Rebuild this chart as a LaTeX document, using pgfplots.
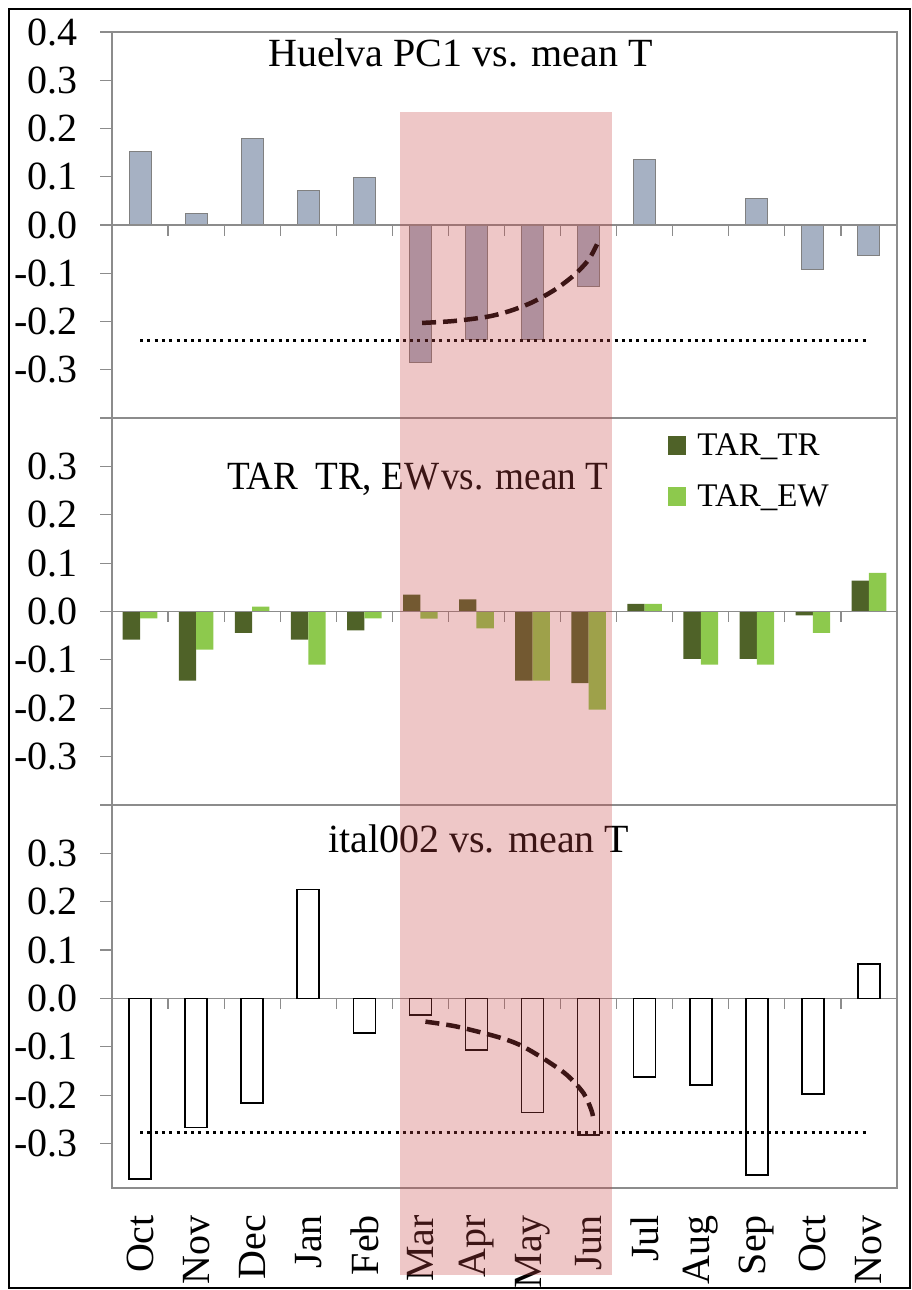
\documentclass[border=0pt]{standalone}
\usepackage{fontspec}
\setmainfont{Liberation Serif}
\usepackage{graphicx}
\usepackage{pgfplots}
\pgfplotsset{compat=1.18}

\definecolor{huelva}{RGB}{166,177,195}
\definecolor{barline}{RGB}{128,128,128}
\definecolor{axgray}{RGB}{140,140,140}
\definecolor{trgreen}{RGB}{79,98,40}
\definecolor{ewgreen}{RGB}{141,201,77}
\definecolor{hilite}{RGB}{200,70,70}

\newcommand\bigf{\fontsize{40}{44}\selectfont}
\newcommand\legf{\fontsize{33}{36}\selectfont}

% month index, value
\pgfplotstableread{
m  pc1
0  0.152
1  0.024
2  0.179
3  0.072
4  0.098
5  -0.286
6  -0.238
7  -0.238
8  -0.128
9  0.135
10 0
11 0.055
12 -0.092
13 -0.064
}\huelva

\pgfplotstableread{
m  tr     ew
0  -0.058 -0.014
1  -0.143 -0.079
2  -0.044 0.010
3  -0.058 -0.110
4  -0.039 -0.014
5  0.035  -0.015
6  0.025  -0.035
7  -0.143 -0.143
8  -0.148 -0.203
9  0.016  0.016
10 -0.098 -0.110
11 -0.098 -0.110
12 -0.008 -0.044
13 0.064  0.080
}\tar

\pgfplotstableread{
m  it
0  -0.374
1  -0.267
2  -0.216
3  0.225
4  -0.072
5  -0.034
6  -0.107
7  -0.236
8  -0.283
9  -0.163
10 -0.179
11 -0.365
12 -0.198
13 0.071
}\ital

\pgfplotsset{
  panel/.style={
    scale only axis, width=785pt,
    xmin=-0.5, xmax=13.5,
    axis line style={axgray, line width=1.2pt},
    xtick=\empty,
    ytick pos=left, tick align=outside, major tick length=12pt,
    ytick style={axgray, line width=1.2pt},
    yticklabel style={font=\bigf, inner sep=0pt},
    yticklabel shift=22pt,
  },
}

\begin{document}
\begin{tikzpicture}
\useasboundingbox (0,0) rectangle (912pt,1290pt);

% ---- top panel
\begin{axis}[panel, at={(112pt,872pt)}, anchor=south west, height=386pt,
  ymin=-0.4, ymax=0.4,
  ytick={-0.4,-0.3,-0.2,-0.1,0,0.1,0.2,0.3,0.4},
  yticklabels={,-0.3,-0.2,-0.1,0.0,0.1,0.2,0.3,0.4}]
\addplot[ybar, bar width=22pt, fill=huelva, draw=barline, line width=1pt] table[x=m,y=pc1] {\huelva};
\draw[axgray, line width=1.2pt] (axis cs:-0.5,0) -- (axis cs:13.5,0);
\pgfplotsinvokeforeach{0.5,1.5,...,12.5}{\draw[axgray, line width=1.2pt] (axis cs:#1,0) -- ++(0pt,-11pt);}
\addplot[black, line width=3pt, dash pattern=on 3pt off 4.3pt] coordinates {(0,-0.239) (13,-0.239)};
\addplot[black, line width=4.5pt, smooth, dash pattern=on 14pt off 7pt] coordinates {
  (5.03,-0.203) (5.6,-0.199) (6.2,-0.190) (6.6,-0.178) (7.0,-0.160)
  (7.4,-0.134) (7.75,-0.103) (8.0,-0.072) (8.15,-0.040)};
\end{axis}

% ---- middle panel
\begin{axis}[panel, at={(112pt,485pt)}, anchor=south west, height=387pt,
  ymin=-0.4, ymax=0.4,
  ytick={-0.4,-0.3,-0.2,-0.1,0,0.1,0.2,0.3,0.4},
  yticklabels={,-0.3,-0.2,-0.1,0.0,0.1,0.2,0.3,},
  ybar=0pt, bar width=17.3pt,
  legend image code/.code={\fill[#1] (0pt,-9.5pt) rectangle (18.5pt,9.5pt);},
  legend style={at={(0.708,0.965)}, anchor=north west, draw=none, fill=none,
    font=\legf, inner sep=0pt, row sep=24pt,
    /tikz/every odd column/.append style={column sep=9pt}},
  legend cell align=left]
\addplot[fill=trgreen, draw=none] table[x=m,y=tr] {\tar};
\addplot[fill=ewgreen, draw=none] table[x=m,y=ew] {\tar};
\draw[axgray, line width=1.2pt] (axis cs:-0.5,0) -- (axis cs:13.5,0);
\pgfplotsinvokeforeach{0.5,1.5,...,12.5}{\draw[axgray, line width=1.2pt] (axis cs:#1,0) -- ++(0pt,-11pt);}
\legend{TAR\_TR, TAR\_EW}
\end{axis}

% ---- bottom panel
\begin{axis}[panel, at={(112pt,102pt)}, anchor=south west, height=383pt,
  ymin=-0.392, ymax=0.4,
  ytick={-0.3,-0.2,-0.1,0,0.1,0.2,0.3,0.4},
  yticklabels={-0.3,-0.2,-0.1,0.0,0.1,0.2,0.3,},
  xtick={0,...,13}, xtick pos=bottom, xtick style={draw=none},
  xticklabels={Oct,Nov,Dec,Jan,Feb,Mar,Apr,May,Jun,Jul,Aug,Sep,Oct,Nov},
  xticklabel style={rotate=90, anchor=east, font=\bigf, inner sep=0pt},
  xticklabel shift=15pt]
\draw[axgray, line width=1.2pt] (axis cs:-0.5,0) -- (axis cs:13.5,0);
\pgfplotsinvokeforeach{0.5,1.5,...,12.5}{\draw[axgray, line width=1.2pt] (axis cs:#1,0) -- ++(0pt,-11pt);}
\addplot[ybar, bar width=22pt, fill=white, draw=black, line width=1.6pt] table[x=m,y=it] {\ital};
\addplot[black, line width=3pt, dash pattern=on 3pt off 4.3pt] coordinates {(0,-0.277) (13,-0.277)};
\addplot[black, line width=4.5pt, smooth, dash pattern=on 14pt off 7pt] coordinates {
  (5.09,-0.048) (5.64,-0.058) (6.36,-0.079) (6.77,-0.096) (7.19,-0.124)
  (7.61,-0.158) (7.91,-0.196) (8.05,-0.231) (8.09,-0.252)};
\coordinate (shA) at (axis cs:4.64,1.833);
\coordinate (shB) at (axis cs:8.42,-0.572);
\end{axis}

% panel titles
\node[anchor=base west, inner sep=0pt, font=\bigf] at (268pt,1223.3pt) {Huelva PC1 vs. mean T};
\node[anchor=base west, inner sep=0pt, font=\bigf] at (227pt,800pt)
  {\scalebox{0.93}[1]{TAR\hspace{0.45em}TR, EW\hspace{0.05em}vs. mean T}};
\node[anchor=base west, inner sep=0pt, font=\bigf] at (328pt,437pt) {ital002 vs. mean T};

% highlighted season (Mar--Jun)
\fill[hilite, opacity=0.3] (shA) rectangle (shB);

% outer frame
\draw[black, line width=2pt] (9pt,2pt) rectangle (910pt,1281pt);
\end{tikzpicture}
\end{document}
